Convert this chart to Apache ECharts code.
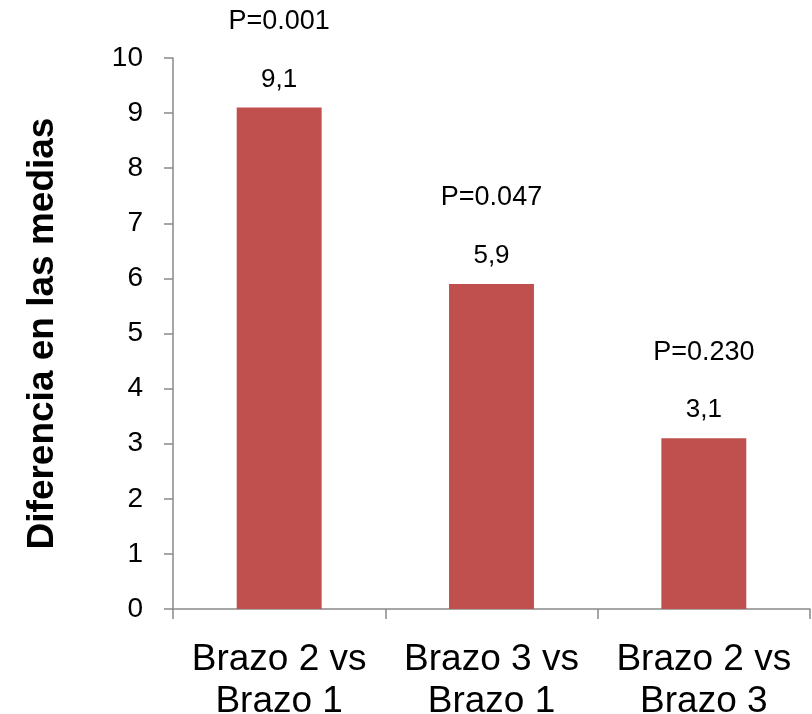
<!DOCTYPE html>
<html>
<head>
<meta charset="utf-8">
<script src="https://cdn.jsdelivr.net/npm/echarts@6/dist/echarts.min.js"></script>
<style>
html,body{margin:0;padding:0;background:#fff;}
#chart{width:812px;height:714px;}
</style>
</head>
<body>
<div id="chart"></div>
<script>
var categories = ["Brazo 2 vs\nBrazo 1", "Brazo 3 vs\nBrazo 1", "Brazo 2 vs\nBrazo 3"];
var values = [9.1, 5.9, 3.1];
var valueLabels = ["9,1", "5,9", "3,1"];
var pLabels = ["P=0.001", "P=0.047", "P=0.230"];
var yTicks = [0, 1, 2, 3, 4, 5, 6, 7, 8, 9, 10];
var yTitle = "Diferencia en las medias";

var FONT = "'Liberation Sans', Arial, sans-serif";
var chart = echarts.init(document.getElementById('chart'));
chart.setOption({
  animation: false,
  backgroundColor: '#ffffff',
  textStyle: { fontFamily: FONT, color: '#000' },
  grid: { left: 173, right: 2, top: 58, bottom: 105, containLabel: false, outerBoundsMode: 'none' },
  xAxis: {
    type: 'category',
    data: categories,
    boundaryGap: true,
    axisLine: { lineStyle: { color: '#898989', width: 1.5 } },
    axisTick: { show: true, length: 10, alignWithLabel: false, lineStyle: { color: '#898989', width: 1.5 } },
    axisLabel: { fontFamily: FONT, fontSize: 37, color: '#000', lineHeight: 42, margin: 30, interval: 0 },
    splitLine: { show: false }
  },
  yAxis: {
    type: 'value',
    min: yTicks[0],
    max: yTicks[yTicks.length - 1],
    interval: 1,
    name: yTitle,
    nameLocation: 'middle',
    nameRotate: 90,
    nameGap: 112,
    nameTextStyle: { fontFamily: FONT, fontSize: 37, fontWeight: 'bold', color: '#000' },
    axisLine: { show: true, lineStyle: { color: '#898989', width: 1.5 } },
    axisTick: { show: true, length: 9, lineStyle: { color: '#898989', width: 1.5 } },
    axisLabel: { fontFamily: FONT, fontSize: 28, color: '#000', margin: 30 },
    splitLine: { show: false }
  },
  series: [{
    type: 'bar',
    data: values,
    barWidth: '40%',
    itemStyle: { color: '#C0504D' },
    label: {
      show: true,
      position: 'top',
      distance: 5,
      formatter: function (p) {
        return '{p|' + pLabels[p.dataIndex] + '}\n{v|' + valueLabels[p.dataIndex] + '}';
      },
      rich: {
        p: { fontFamily: FONT, fontSize: 27, color: '#000', lineHeight: 70 },
        v: { fontFamily: FONT, fontSize: 26, color: '#000', lineHeight: 46 }
      }
    }
  }]
});
</script>
</body>
</html>
